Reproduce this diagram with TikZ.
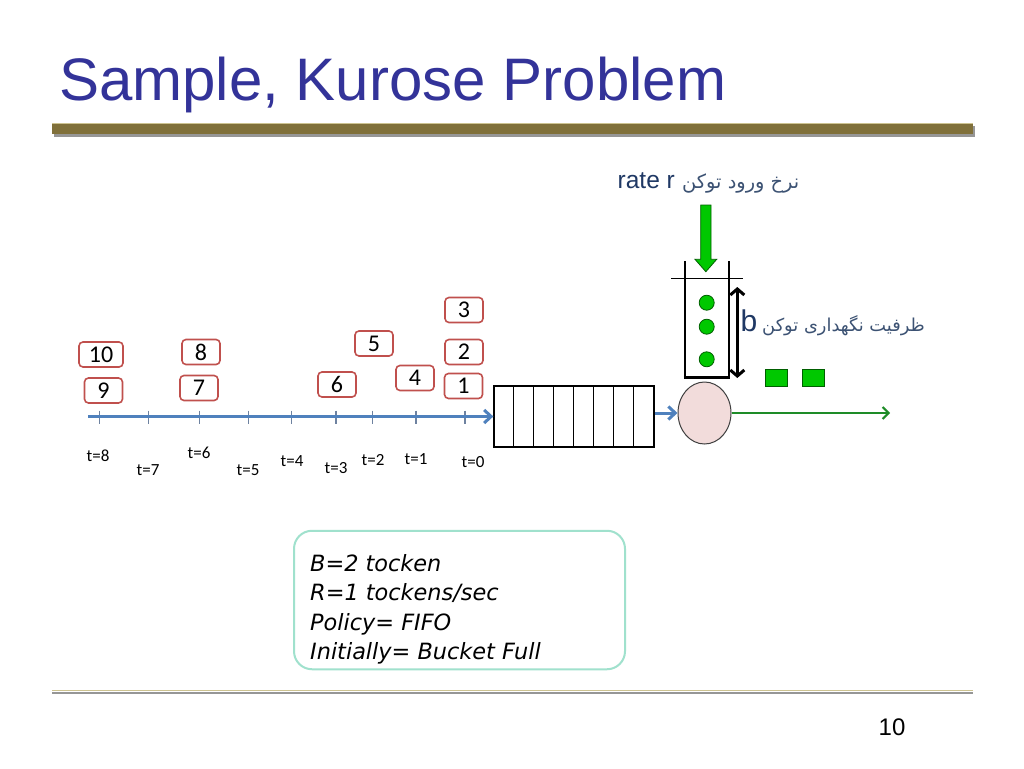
\documentclass[tikz,border=0pt]{standalone}
\usepackage{fontspec}
\setmainfont{Liberation Sans}
\newfontfamily\carlito{Carlito}
\newfontfamily\dejavu{DejaVu Sans}
\newfontfamily\arabicfont[Script=Arabic]{DejaVu Sans}
\TeXXeTstate=1
\usetikzlibrary{arrows.meta,shapes.geometric}
\definecolor{titleblue}{RGB}{51,51,153}
\definecolor{barolive}{RGB}{128,112,58}
\definecolor{barlight}{RGB}{205,195,145}
\definecolor{barshadow}{RGB}{150,150,150}
\definecolor{pktred}{RGB}{192,80,77}
\definecolor{lineblue}{RGB}{79,129,189}
\definecolor{tickgray}{RGB}{110,130,160}
\definecolor{serverpink}{RGB}{242,220,219}
\definecolor{outgreen}{RGB}{30,140,40}
\definecolor{tokengreen}{RGB}{0,200,0}
\definecolor{darkgreen}{RGB}{0,95,0}
\definecolor{textnavy}{RGB}{31,56,100}
\definecolor{persianblue}{RGB}{60,82,115}
\definecolor{boxteal}{RGB}{160,225,205}
\tikzset{
  pkt/.style={draw=pktred, line width=1.6, rounded corners=4, fill=white,
    minimum width=38, minimum height=25, inner sep=0,
    font=\carlito\fontsize{24}{26}\selectfont},
  tlabel/.style={font=\carlito\fontsize{17}{19}\selectfont, inner sep=0},
  bluearrow/.style={draw=lineblue, line width=3,
    -{Straight Barb[length=7,width=13]}},
  greenarrow/.style={draw=outgreen, line width=2,
    -{Straight Barb[length=6,width=12]}},
  tickmark/.style={draw=tickgray, line width=1.2},
  token/.style={circle, fill=tokengreen, draw=darkgreen, line width=0.8,
    minimum size=15, inner sep=0},
  sqtoken/.style={rectangle, fill=tokengreen, draw=darkgreen, line width=0.8,
    minimum width=22, minimum height=17, inner sep=0},
  infoline/.style={font=\dejavu\itshape\fontsize{22.4}{27}\selectfont,
    anchor=base west, inner sep=0},
}
\begin{document}
\begin{tikzpicture}[x=1pt,y=-1pt]
\useasboundingbox[fill=white] (0,0) rectangle (1024,768);

% title
\node[anchor=base west, inner sep=0, text=titleblue,
  font=\fontsize{60}{70}\selectfont] (title) at (59,100) {Sample, Kurose Problem};
% title bar
\fill[barshadow] (54,126) rectangle (975,136.5);
\fill[barolive] (52,123) rectangle (973,134);
\draw[barlight, line width=1.2] (52,123.6) -- (973,123.6);

% queue
\node[draw, line width=1.3, minimum width=160, minimum height=61, inner sep=0]
  (queue) at (574,416.5) {};
\foreach \i in {1,...,7}
  \draw[line width=1.3] ([xshift=\i*20]queue.north west) -- ([xshift=\i*20]queue.south west);

% timeline
\coordinate (tstart) at (88,416.5);
\foreach \x in {99.3,148.3,199.3,248.3,291.7,336,372.7,416,465}
  \draw[tickmark] (\x,410.5) -- (\x,424);
\draw[bluearrow] (tstart) -- (queue.west);

% time labels
\node[tlabel] (t8) at (98,456) {t=8};
\node[tlabel] (t7) at (148,470) {t=7};
\node[tlabel] (t6) at (199,453) {t=6};
\node[tlabel] (t5) at (248,470) {t=5};
\node[tlabel] (t4) at (292,461) {t=4};
\node[tlabel] (t3) at (336,468) {t=3};
\node[tlabel] (t2) at (373,460) {t=2};
\node[tlabel] (t1) at (416,459) {t=1};
\node[tlabel] (t0) at (473,462) {t=0};

% packets
\node[pkt, minimum width=44] (p10) at (101,354.5) {10};
\node[pkt] (p9) at (103.5,390.5) {9};
\node[pkt] (p8) at (201,352) {8};
\node[pkt] (p7) at (199,388) {7};
\node[pkt] (p6) at (337,384.5) {6};
\node[pkt] (p5) at (374,343.5) {5};
\node[pkt] (p4) at (415,378) {4};
\node[pkt] (p3) at (464,310) {3};
\node[pkt] (p2) at (464,352) {2};
\node[pkt] (p1) at (463.5,386) {1};

% server
\node[ellipse, draw=black!75, fill=serverpink, line width=1,
  minimum width=53, minimum height=62, inner sep=0] (server) at (704.5,413) {};
\draw[bluearrow] (queue.east |- server) -- (server.west);
\coordinate (outend) at (890,413);
\draw[greenarrow] (server.east) -- (outend);

% bucket
\draw[line width=1.5] (685,261) -- (685,278.3);
\draw[line width=1.5] (729,261) -- (729,278.3);
\draw[line width=1.3] (671,278.3) -- (743,278.3);
\draw[line width=2.5, line join=miter] (685,278.3) -- (685,377) -- (729,377) -- (729,278.3);
\draw[line width=3] (683.8,377) -- (730.2,377);

% incoming token arrow
\fill[tokengreen, draw=darkgreen, line width=0.8]
  (700.7,205) -- (711,205) -- (711,259.3) -- (716.7,259.3) -- (705.85,271.7)
  -- (695,259.3) -- (700.7,259.3) -- cycle;

% tokens
\node[token] (k1) at (706.7,302.7) {};
\node[token] (k2) at (706.7,326.7) {};
\node[token] (k3) at (706.7,359.3) {};

% bucket size arrow
\coordinate (btop) at (737.3,287);
\coordinate (bbot) at (737.3,378);
\draw[line width=3, {Straight Barb[length=6,width=14]}-{Straight Barb[length=6,width=14]}]
  (btop) -- (bbot);

% labels
\node[anchor=base west, inner sep=0, text=textnavy,
  font=\fontsize{24.5}{28}\selectfont] (rate) at (617.5,188.3) {rate r};
\node[anchor=base west, inner sep=0, text=persianblue,
  font=\arabicfont\fontsize{19.4}{24}\selectfont] (ratefa) at (682,188.3)
  {\beginR نرخ ورود توکن\endR};
\node[anchor=base west, inner sep=0, text=textnavy,
  font=\fontsize{30}{34}\selectfont] (blabel) at (740.5,331.7) {b};
\node[anchor=base west, inner sep=0, text=persianblue,
  font=\arabicfont\fontsize{17.8}{24}\selectfont] (bfa) at (762,331.7)
  {\beginR ظرفیت نگهداری توکن\endR};

% sent tokens
\node[sqtoken] (s1) at (776.7,378) {};
\node[sqtoken] (s2) at (813.3,378) {};

% info box
\node[draw=boxteal, line width=2, rounded corners=18, minimum width=331,
  minimum height=138.5, inner sep=0] (info) at (459.5,600) {};
\node[infoline] (l1) at (310,571) {B=2 tocken};
\node[infoline] (l2) at (310,600.5) {R=1 tockens/sec};
\node[infoline] (l3) at (310,630) {Policy= FIFO};
\node[infoline] (l4) at (310,659.5) {Initially= Bucket Full};

% bottom rule
\draw[barlight, line width=1.4] (52,690.3) -- (973,690.3);
\draw[barshadow, line width=2] (52,693.2) -- (973,693.2);
\node[inner sep=0, font=\fontsize{24}{28}\selectfont] (pagenum) at (892,727) {10};
\end{tikzpicture}
\end{document}
